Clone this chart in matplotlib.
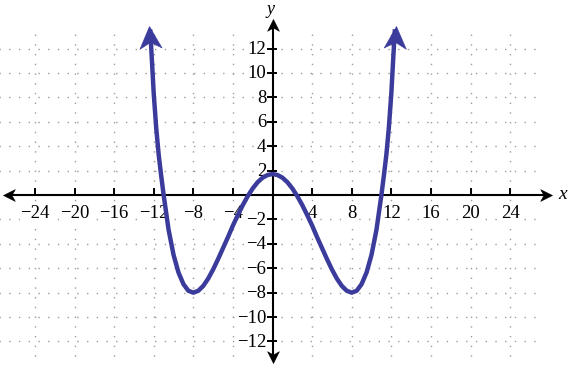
import matplotlib.pyplot as plt
from matplotlib.markers import MarkerStyle
from matplotlib.path import Path
from matplotlib.transforms import Affine2D
import numpy as np

# curve points
x_curve = [-12.35, -12.25, -12, -11.75, -11.5, -11.25, -11, -10.5, -10, -9.5, -9, -8.5, -8, -7.5, -7, -6.5,
           -6, -5.5, -5, -4.5, -4, -3.5, -3, -2.5, -2, -1.5, -1, -0.5, 0,
           0.5, 1, 1.5, 2, 2.5, 3, 3.5, 4, 4.5, 5, 5.5, 6, 6.5, 7, 7.5, 8,
           8.5, 9, 9.5, 10, 10.5, 11, 11.25, 11.5, 11.75, 12, 12.25, 12.35]
y_curve = [13.4, 12.0, 8.3, 5.5, 3.3, 1.6, 0.0, -2.85, -4.9, -6.35, -7.3, -7.85, -8.0, -7.85, -7.45, -6.85,
           -6.1, -5.25, -4.35, -3.45, -2.5, -1.64, -0.82, -0.09, 0.54, 1.05, 1.42, 1.64, 1.72,
           1.64, 1.42, 1.05, 0.54, -0.09, -0.82, -1.64, -2.5, -3.45, -4.35, -5.25, -6.1, -6.85, -7.45, -7.85, -8.0,
           -7.85, -7.3, -6.35, -4.9, -2.85, 0.0, 1.6, 3.3, 5.5, 8.3, 12.0, 13.4]
# where the two arrowheads on the curve point to
tip_x = [-12.5, 12.48]
tip_y = [13.85, 13.85]

x_ticks = [-24, -20, -16, -12, -8, -4, 4, 8, 12, 16, 20, 24]
y_ticks = [-12, -10, -8, -6, -4, -2, 2, 4, 6, 8, 10, 12]

curve_color = '#3b3b9b'
grid_color = '#9c9c9c'
serif = 'Liberation Serif'

fig = plt.figure(figsize=(5.69, 3.65), dpi=100)
ax = fig.add_axes([0, 0, 1, 1])
ax.axis('off')
ax.set_xlim(-27.53, 29.95)
ax.set_ylim(-13.93, 15.98)

# stealth arrow head, tip at (0, 0), pointing up
head = Path([(0, 0), (-0.5, -1.0), (0, -0.72), (0.5, -1.0), (0, 0)],
            [Path.MOVETO, Path.LINETO, Path.LINETO, Path.LINETO, Path.CLOSEPOLY])

def arrow_head(x, y, angle, size, color):
    m = MarkerStyle(head, transform=Affine2D().rotate_deg(angle))
    ax.plot([x], [y], marker=m, markersize=size, color=color,
            markeredgewidth=0.4, linestyle='none', zorder=6)

# dotted grid
for gx in x_ticks:
    ax.plot([gx, gx], [-14.2, 13.6], color=grid_color, lw=1, dashes=(1, 6), zorder=1)
for gy in y_ticks:
    ax.plot([-28, 27.3], [gy, gy], color=grid_color, lw=1, dashes=(1, 6), zorder=1)

# axes with arrows on both ends
ax.plot([-26.5, 27.5], [0, 0], color='black', lw=1.5, zorder=3.5)
ax.plot([0, 0], [-13.2, 13.9], color='black', lw=1.5, zorder=3.5)
arrow_head(-27.2, 0, 90, 17, 'black')
arrow_head(28.2, 0, -90, 17, 'black')
arrow_head(0, 14.43, 0, 17, 'black')
arrow_head(0, -13.8, 180, 17, 'black')

# tick marks
ax.vlines(x_ticks, -0.12, 0.55, color='black', lw=1.4, zorder=3.5)
ax.hlines(y_ticks, -0.6, 0.5, color='black', lw=1.4, zorder=3.5)

box = dict(facecolor='white', edgecolor='none', pad=0.6)
for t in x_ticks:
    lab = str(t).replace('-', '\u2212')
    ax.text(t, -1.5, lab, ha='center', va='center', fontsize=13.5,
            family=serif, bbox=box, zorder=3)
for t in y_ticks:
    lab = str(t).replace('-', '\u2212')
    ax.text(-0.62, t - 0.08, lab, ha='right', va='center', fontsize=13.5,
            family=serif, bbox=box, zorder=3)

ax.text(29.25, 0.05, 'x', ha='center', va='center', fontsize=14,
        family=serif, style='italic')
ax.text(-0.2, 15.2, 'y', ha='center', va='center', fontsize=13,
        family=serif, style='italic')

# the curve
ax.plot(x_curve, y_curve, color=curve_color, lw=3.2, solid_joinstyle='round', zorder=4)
fig.canvas.draw()
for k, i in ((0, 0), (1, -1)):
    p0 = ax.transData.transform((x_curve[i], y_curve[i] - 1.4))
    p1 = ax.transData.transform((tip_x[k], tip_y[k]))
    ang = np.degrees(np.arctan2(p1[0] - p0[0], p1[1] - p0[1]))
    arrow_head(tip_x[k], tip_y[k], -ang, 32, curve_color)

fig.savefig('out.png', dpi=100)
